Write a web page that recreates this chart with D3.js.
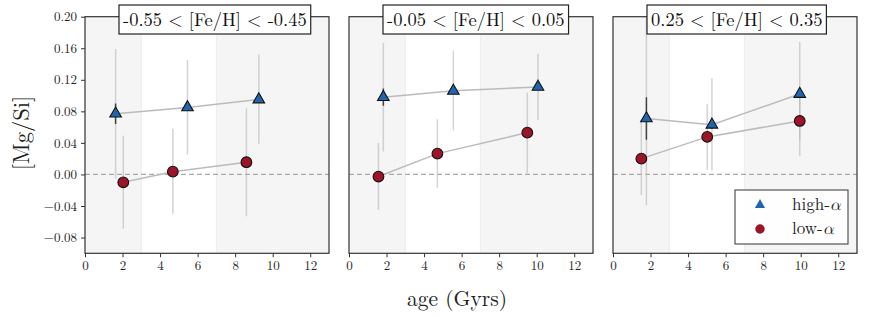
<!DOCTYPE html>
<html>
<head>
<meta charset="utf-8">
<script src="https://cdn.jsdelivr.net/npm/d3@7"></script>
<style>
  body { margin: 0; background: #fff; }
</style>
</head>
<body>
<div id="chart"></div>
<script>
// panel titles
const panelTitles = ["-0.55 < [Fe/H] < -0.45", "-0.05 < [Fe/H] < 0.05", "0.25 < [Fe/H] < 0.35"];

// high-alpha series, one row per panel
const highAge  = [[1.63, 5.46, 9.26], [1.83, 5.56, 10.07], [1.78, 5.27, 9.95]];
const highMgSi = [[0.077, 0.085, 0.095], [0.098, 0.106, 0.111], [0.071, 0.063, 0.102]];
const highLo   = [[-0.005, 0.025, 0.039], [0.029, 0.056, 0.069], [-0.039, 0.005, 0.044]];
const highHi   = [[0.159, 0.145, 0.152], [0.167, 0.157, 0.153], [0.215, 0.122, 0.168]];
const highErr  = [[0.013, 0.004, 0.004], [0.011, 0.004, 0.004], [0.027, 0.005, 0.005]];

// low-alpha series
const lowAge  = [[2.04, 4.68, 8.6], [1.57, 4.71, 9.5], [1.51, 5.02, 9.95]];
const lowMgSi = [[-0.010, 0.0035, 0.0155], [-0.0027, 0.0264, 0.053], [0.020, 0.0476, 0.0678]];
const lowLo   = [[-0.069, -0.050, -0.053], [-0.045, -0.017, 0.0016], [-0.026, 0.006, 0.023]];
const lowHi   = [[0.049, 0.058, 0.084], [0.040, 0.070, 0.104], [0.069, 0.089, 0.106]];
const lowErr  = [[0.004, 0.004, 0.004], [0.004, 0.004, 0.004], [0.004, 0.004, 0.004]];

const xTicks = [0, 2, 4, 6, 8, 10, 12];
const yTicks = [-0.08, -0.04, 0.00, 0.04, 0.08, 0.12, 0.16, 0.20];
const shadeSpans = [[0, 3], [7, 13]];

const blue = "#2166ac", red = "#9b1428";
const serif = "'Latin Modern Roman', 'Liberation Serif', serif";
const mathFont = "'Latin Modern Math', 'Liberation Serif', serif";

const W = 872, H = 317;
const svg = d3.select("#chart").append("svg")
    .attr("width", W).attr("height", H);

const panelLeft = [85, 349, 613];
const pw = 244;
const plotTop = 16.7, plotBottom = 253.3;

const y = d3.scaleLinear().domain([-0.10, 0.20]).range([plotBottom, plotTop]);

panelLeft.forEach(function(x0, i) {
    const x = d3.scaleLinear().domain([0, 13]).range([x0, x0 + pw]);
    const g = svg.append("g");

    const clipId = "clip" + i;
    svg.append("clipPath").attr("id", clipId)
        .append("rect").attr("x", x0).attr("y", plotTop).attr("width", pw).attr("height", plotBottom - plotTop);

    const inner = g.append("g").attr("clip-path", "url(#" + clipId + ")");

    // background spans
    inner.append("rect").attr("x", x0).attr("y", plotTop).attr("width", pw).attr("height", plotBottom - plotTop).attr("fill", "#fff");
    shadeSpans.forEach(function(s) {
        inner.append("rect")
            .attr("x", x(s[0])).attr("y", plotTop)
            .attr("width", x(s[1]) - x(s[0])).attr("height", plotBottom - plotTop)
            .attr("fill", "#f5f5f5");
    });
    [3, 7].forEach(function(v) {
        inner.append("line").attr("x1", x(v)).attr("x2", x(v)).attr("y1", plotTop).attr("y2", plotBottom)
            .attr("stroke", "#ececec").attr("stroke-width", 1);
    });

    // zero line
    inner.append("line").attr("x1", x0).attr("x2", x0 + pw).attr("y1", y(0)).attr("y2", y(0))
        .attr("stroke", "#aaa").attr("stroke-width", 1.3).attr("stroke-dasharray", "5,3");

    const series = [
        {age: highAge[i], v: highMgSi[i], lo: highLo[i], hi: highHi[i], err: highErr[i], type: d3.symbolTriangle, size: 58, color: blue},
        {age: lowAge[i], v: lowMgSi[i], lo: lowLo[i], hi: lowHi[i], err: lowErr[i], type: d3.symbolCircle, size: 90, color: red}
    ];

    // scatter bars
    series.forEach(function(s) {
        inner.selectAll(null).data(s.age).enter().append("line")
            .attr("x1", d => x(d)).attr("x2", d => x(d))
            .attr("y1", (d, j) => y(s.lo[j])).attr("y2", (d, j) => y(s.hi[j]))
            .attr("stroke", "#b8b8b8").attr("stroke-opacity", 0.6).attr("stroke-width", 1.5);
    });
    // connecting lines
    series.forEach(function(s) {
        const pts = s.age.map((a, j) => [x(a), y(s.v[j])]);
        inner.append("path").attr("d", d3.line()(pts))
            .attr("fill", "none").attr("stroke", "#bbb").attr("stroke-width", 1.5);
    });
    // mean error bars and markers
    series.forEach(function(s) {
        inner.selectAll(null).data(s.age).enter().append("line")
            .attr("x1", d => x(d)).attr("x2", d => x(d))
            .attr("y1", (d, j) => y(s.v[j] - s.err[j])).attr("y2", (d, j) => y(s.v[j] + s.err[j]))
            .attr("stroke", "#444").attr("stroke-width", 1.5);
        inner.selectAll(null).data(s.age).enter().append("path")
            .attr("d", d3.symbol().type(s.type).size(s.size))
            .attr("transform", (d, j) => "translate(" + x(d) + "," + y(s.v[j]) + ")")
            .attr("fill", s.color).attr("stroke", "#111").attr("stroke-width", 1.1);
    });

    // frame
    g.append("rect").attr("x", x0).attr("y", plotTop).attr("width", pw).attr("height", plotBottom - plotTop)
        .attr("fill", "none").attr("stroke", "#333").attr("stroke-width", 1.2);

    // x axis
    const xa = g.append("g").attr("transform", "translate(0," + plotBottom + ")")
        .call(d3.axisBottom(x).tickValues(xTicks).tickSize(4).tickPadding(3).tickFormat(d3.format("d")));
    xa.select(".domain").remove();
    xa.selectAll("line").attr("stroke", "#333");
    xa.selectAll("text").style("font-size", "13px").style("font-family", serif).attr("fill", "#222");

    // y axis only on first panel
    if (i === 0) {
        const ya = g.append("g").attr("transform", "translate(" + x0 + ",0)")
            .call(d3.axisLeft(y).tickValues(yTicks).tickSize(4).tickPadding(4).tickFormat(d3.format(".2f")));
        ya.select(".domain").remove();
        ya.selectAll("line").attr("stroke", "#333");
        ya.selectAll("text").style("font-size", "13px").style("font-family", serif).attr("fill", "#222");
    }

    // title box
    const tg = g.append("g");
    const tt = tg.append("text").attr("x", x0 + 38).attr("y", 25.8)
        .style("font-size", "18.5px").style("font-family", serif).attr("fill", "#111")
        .text(panelTitles[i]);
    const bb = tt.node().getBBox();
    tg.insert("rect", "text").attr("x", x0 + 34).attr("y", 5)
        .attr("width", bb.width + 8).attr("height", 29)
        .attr("fill", "#fff").attr("stroke", "#222").attr("stroke-width", 1.2);
});

// axis labels
svg.append("text").attr("x", 457).attr("y", 306).attr("text-anchor", "middle")
    .style("font-size", "21.5px").style("font-family", serif).attr("fill", "#222").text("age (Gyrs)");
svg.append("text").attr("transform", "translate(29,133) rotate(-90)").attr("text-anchor", "middle")
    .style("font-size", "22.5px").style("font-family", serif).attr("fill", "#222").text("[Mg/Si]");

// legend
const lg = svg.append("g");
lg.append("rect").attr("x", 735).attr("y", 190).attr("width", 113).attr("height", 54)
    .attr("fill", "#fff").attr("fill-opacity", 0.85).attr("stroke", "#333").attr("stroke-width", 1);
const legendItems = [
    {label: "high-", type: d3.symbolTriangle, size: 45, color: blue},
    {label: "low-", type: d3.symbolCircle, size: 70, color: red}
];
legendItems.forEach(function(it, k) {
    const cy = 205 + k * 24;
    lg.append("path").attr("d", d3.symbol().type(it.type).size(it.size))
        .attr("transform", "translate(760," + cy + ")").attr("fill", it.color);
    const t = lg.append("text").attr("x", 792).attr("y", cy + 5)
        .style("font-size", "17px").style("font-family", serif).attr("fill", "#222").text(it.label);
    t.append("tspan").style("font-style", "italic").style("font-family", mathFont).text("α");
});
</script>
</body>
</html>
